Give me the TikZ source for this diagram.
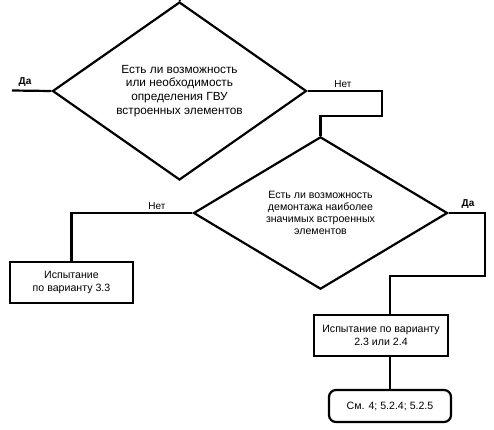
\documentclass[tikz,border=0pt]{standalone}
\usepackage{fontspec}
\setmainfont{Liberation Sans}
\usetikzlibrary{shapes.geometric,calc}
\begin{document}
\begin{tikzpicture}[x=1pt,y=-1pt,
  line/.style={line width=2.2pt, line join=miter},
  decision/.style={diamond, draw, line width=2.2pt, minimum width=254pt, minimum height=124pt, inner sep=0pt, align=center},
  process/.style={rectangle, draw, line width=2.2pt, align=center, inner sep=0pt},
  term/.style={rectangle, rounded corners=7pt, draw, line width=2.2pt, align=center, inner sep=0pt},
  lbl/.style={font=\fontsize{10}{12}\selectfont, inner sep=1pt}]
\useasboundingbox (0,0) rectangle (494,429);
\node[decision, font=\fontsize{11.8}{13.7}\selectfont] (d1) at (179.5,91) {Есть ли возможность\\или необходимость\\определения ГВУ\\встроенных элементов};
\node[decision, minimum height=126pt, font=\fontsize{10.6}{12}\selectfont] (d2) at (320.5,213) {Есть ли возможность\\демонтажа наиболее\\значимых встроенных\\элементов};
\node[process, minimum width=123pt, minimum height=41pt, font=\fontsize{10.6}{12.5}\selectfont] (b1) at (71.5,282.5) {Испытание\\по варианту 3.3};
\node[process, minimum width=134pt, minimum height=41pt, font=\fontsize{10.6}{12.5}\selectfont] (b2) at (381,335.5) {Испытание по варианту\\2.3 или 2.4};
\node[term, minimum width=122pt, minimum height=32pt, font=\fontsize{10.6}{12.5}\selectfont] (b3) at (390,406) {См. 4; 5.2.4; 5.2.5};
\coordinate (top) at (180,0);
\coordinate (yes1) at (12,90.5);
\coordinate (jog1) at (382,116);
\coordinate (jog2) at (485,276);
\draw[line] (top) -- (d1.north);
\draw[line] (d1.west) -- (yes1);
\node[lbl, font=\fontsize{10}{12}\selectfont\bfseries, anchor=south] (da1) at (25,88) {Да};
\draw[line] (d1.east) -| (jog1) -| (d2.north);
\node[lbl, anchor=south] (net1) at (343,89) {Нет};
\draw[line] (d2.west) -| (b1.north);
\node[lbl, anchor=south] (net2) at (157,211) {Нет};
\draw[line] (d2.east) -| (jog2) -| (b3.north |- b2.north);
\node[lbl, font=\fontsize{10}{12}\selectfont\bfseries, anchor=south] (da2) at (468,210) {Да};
\draw[line] (b3.north |- b2.south) -- (b3.north);
\end{tikzpicture}
\end{document}
